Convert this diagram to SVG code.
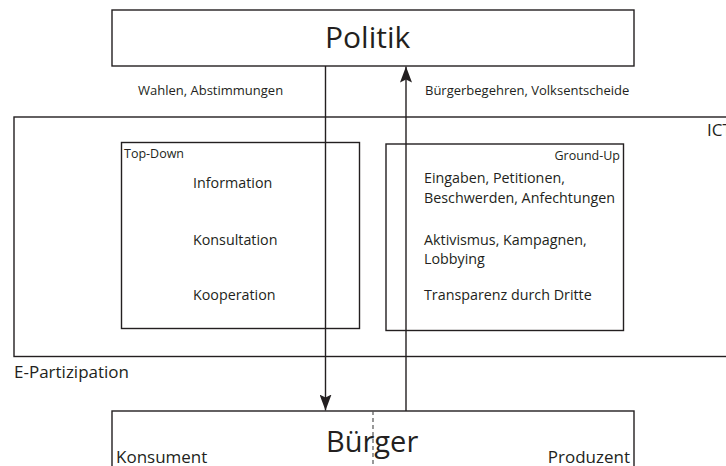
<svg xmlns="http://www.w3.org/2000/svg" width="726" height="466" viewBox="0 0 726 466">
<defs>
<style>
.box{fill:none;stroke:#231f20;stroke-width:1.4}
.line{fill:none;stroke:#231f20;stroke-width:1.4}
.dash{fill:none;stroke:#555;stroke-width:1.2;stroke-dasharray:4 3}
text{font-family:"Open Sans","Noto Sans","Liberation Sans",sans-serif;fill:#231f20}
.big{font-size:30px}
.mid{font-size:17px}
.item{font-size:14.3px}
.lab{font-size:13px}
.small{font-size:12.5px}
</style>
<marker id="arr" viewBox="0 0 16 12" refX="16" refY="6" markerWidth="16" markerHeight="12" markerUnits="userSpaceOnUse" orient="auto">
<path d="M0,0 L16,6 L0,12 L3,6 Z" fill="#231f20"/>
</marker>
</defs>
<rect width="726" height="466" fill="#fff"/>
<g id="e-partizipation">
<rect class="box" x="14" y="117" width="730" height="239.5"/>
<text class="mid" x="707" y="136">ICT</text>
<text class="mid" x="14" y="378">E-Partizipation</text>
</g>
<g id="top-down">
<rect class="box" x="121.5" y="142.5" width="238" height="186"/>
<text class="small" x="124" y="158">Top-Down</text>
<text class="item" x="193" y="188">Information</text>
<text class="item" x="193" y="245">Konsultation</text>
<text class="item" x="193" y="300">Kooperation</text>
</g>
<g id="ground-up">
<rect class="box" x="386" y="144" width="237.5" height="186.5"/>
<text class="small" x="620" y="160" text-anchor="end">Ground-Up</text>
<text class="item" x="424" y="183">Eingaben, Petitionen,</text>
<text class="item" x="424" y="203">Beschwerden, Anfechtungen</text>
<text class="item" x="424" y="245">Aktivismus, Kampagnen,</text>
<text class="item" x="424" y="264">Lobbying</text>
<text class="item" x="424" y="300">Transparenz durch Dritte</text>
</g>
<g id="politik">
<rect class="box" x="112" y="10" width="522" height="56"/>
<text class="big" x="325" y="48">Politik</text>
</g>
<g id="buerger">
<rect class="box" x="112" y="411" width="522" height="80"/>
<line class="dash" x1="373" y1="411" x2="373" y2="466"/>
<text class="big" x="326" y="452" style="font-size:29px">Bürger</text>
<text class="mid" x="116" y="463">Konsument</text>
<text class="mid" x="630" y="463" text-anchor="end">Produzent</text>
</g>
<g id="connectors">
<line class="line" x1="325.5" y1="66" x2="325.5" y2="410.5" marker-end="url(#arr)"/>
<line class="line" x1="406" y1="411" x2="406" y2="66.5" marker-end="url(#arr)"/>
<text class="lab" x="138" y="95">Wahlen, Abstimmungen</text>
<text class="lab" x="425" y="95">Bürgerbegehren, Volksentscheide</text>
</g>
</svg>
